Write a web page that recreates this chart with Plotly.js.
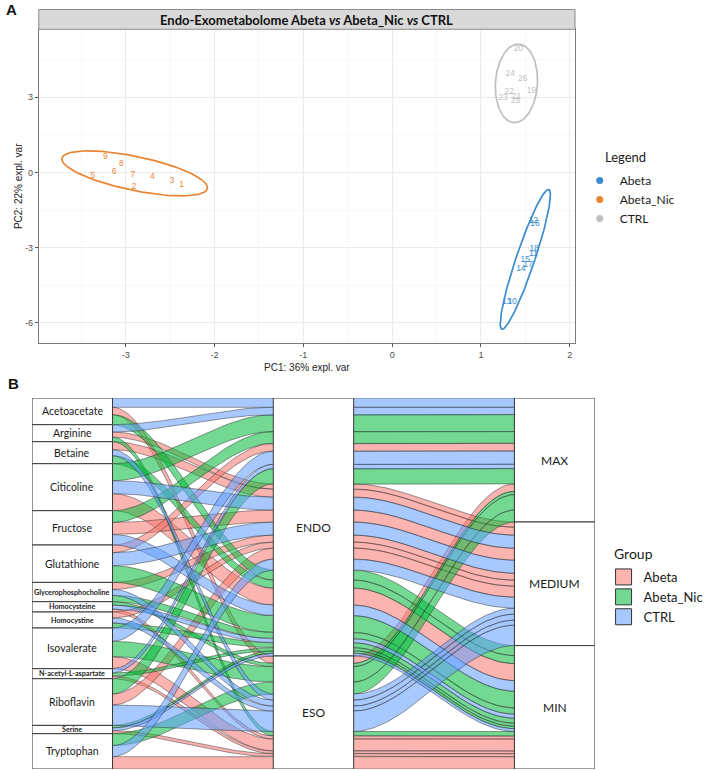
<!DOCTYPE html>
<html>
<head>
<meta charset="utf-8">
<script src="https://cdn.plot.ly/plotly-3.0.1.min.js"></script>
<style>
  html, body { margin: 0; padding: 0; background: #ffffff; }
  #chart { width: 709px; height: 771px; }
</style>
</head>
<body>
<div id="chart"></div>
<script>
// ---------------- Panel A: PCA scores (PC1 / PC2) ----------------
const pcaGroups = ['Abeta', 'Abeta_Nic', 'CTRL'];

const abetaIds = ['10', '11', '12', '13', '14', '15', '16', '17', '18'];
const abetaPC1 = [1.35, 1.59, 1.59, 1.29, 1.45, 1.50, 1.61, 1.53, 1.60];
const abetaPC2 = [-5.16, -3.25, -1.93, -5.16, -3.86, -3.47, -2.06, -3.69, -3.03];

const nicIds = ['1', '2', '3', '4', '5', '6', '7', '8', '9'];
const nicPC1 = [-2.37, -2.91, -2.48, -2.70, -3.37, -3.13, -2.92, -3.05, -3.23];
const nicPC2 = [-0.48, -0.57, -0.35, -0.17, -0.15, 0.01, -0.08, 0.32, 0.60];

const ctrlIds = ['19', '20', '21', '22', '23', '24', '25', '26'];
const ctrlPC1 = [1.57, 1.42, 1.40, 1.32, 1.25, 1.33, 1.39, 1.47];
const ctrlPC2 = [3.25, 4.91, 3.01, 3.20, 2.97, 3.94, 2.84, 3.71];

// group ellipses: centre and two conjugate semi-diameters (PC1, PC2)
const ellipseCentre = [[1.50, -3.465], [-2.90, -0.04], [1.40, 3.545]];
const ellipseU = [[0.11, 0.0], [0.82, -0.57], [0.237, 0.0]];
const ellipseV = [[0.26, 2.785], [0.0, 0.69], [0.02, 1.565]];

const xTicks = [-3, -2, -1, 0, 1, 2];
const yTicks = [-6, -3, 0, 3];

// ---------------- Panel B: alluvial plot ----------------
const metabolites = ['Acetoacetate', 'Arginine', 'Betaine', 'Citicoline', 'Fructose', 'Glutathione',
  'Glycerophosphocholine', 'Homocysteine', 'Homocystine', 'Isovalerate', 'N-acetyl-L-aspartate',
  'Riboflavin', 'Serine', 'Tryptophan'];
const groupNames = ['Abeta', 'Abeta_Nic', 'CTRL'];
const compartments = ['ENDO', 'ESO'];
const levels = ['MAX', 'MEDIUM', 'MIN'];

const abetaCompartment = ['ESO', 'ENDO', 'ENDO', 'ENDO', 'ENDO', 'ENDO', 'ENDO', 'ESO', 'ENDO', 'ESO', 'ESO', 'ENDO', 'ESO', 'ESO'];
const abetaLevel = ['MAX', 'MEDIUM', 'MEDIUM', 'MIN', 'MEDIUM', 'MAX', 'MEDIUM', 'MIN', 'MEDIUM', 'MIN', 'MIN', 'MEDIUM', 'MIN', 'MIN'];
const abetaValue = [7.4, 5.2, 8, 17, 12, 7.7, 7, 3, 6, 12, 2.7, 11, 3, 12.3];

const nicCompartment = ['ENDO', 'ESO', 'ENDO', 'ENDO', 'ENDO', 'ENDO', 'ENDO', 'ESO', 'ENDO', 'ESO', 'ENDO', 'ENDO', 'ENDO', 'ESO'];
const nicLevel = ['MIN', 'MIN', 'MIN', 'MAX', 'MAX', 'MIN', 'MIN', 'MAX', 'MIN', 'MAX', 'MIN', 'MAX', 'MIN', 'MAX'];
const nicValue = [10, 4.5, 8, 17, 11.7, 16.7, 6.3, 3.3, 5, 15.4, 3, 15.3, 2.5, 12];

const ctrlCompartment = ['ENDO', 'ENDO', 'ESO', 'ENDO', 'ENDO', 'ENDO', 'ESO', 'ENDO', 'ESO', 'ENDO', 'ENDO', 'ESO', 'ENDO', 'ENDO'];
const ctrlLevel = ['MAX', 'MAX', 'MEDIUM', 'MEDIUM', 'MIN', 'MEDIUM', 'MEDIUM', 'MIN', 'MEDIUM', 'MAX', 'MAX', 'MEDIUM', 'MIN', 'MEDIUM'];
const ctrlValue = [9.3, 7.3, 6, 13, 10.6, 13, 6, 4, 5, 13.3, 4.3, 20.4, 2.8, 11];

// ---------------- styling ----------------
const pcaColors = ['#3A8BD0', '#EA8431', '#BFBFBF'];
const flowRGB = [[248, 118, 109], [0, 186, 56], [97, 156, 255]];
const flowAlpha = 0.55;
const rgba = (c, a) => `rgba(${c[0]},${c[1]},${c[2]},${a})`;
const labelFamily = 'Lato, Carlito, sans-serif';

const traces = [];

// ----- Panel A traces -----
const pcaSets = [
  { ids: abetaIds, x: abetaPC1, y: abetaPC2 },
  { ids: nicIds, x: nicPC1, y: nicPC2 },
  { ids: ctrlIds, x: ctrlPC1, y: ctrlPC2 }
];

pcaSets.forEach((s, gi) => {
  // ellipse outline
  const ex = [], ey = [];
  const [cx, cy] = ellipseCentre[gi];
  for (let k = 0; k <= 120; k++) {
    const t = 2 * Math.PI * k / 120;
    ex.push(cx + ellipseU[gi][0] * Math.cos(t) + ellipseV[gi][0] * Math.sin(t));
    ey.push(cy + ellipseU[gi][1] * Math.cos(t) + ellipseV[gi][1] * Math.sin(t));
  }
  traces.push({
    type: 'scatter', mode: 'lines', x: ex, y: ey, xaxis: 'x', yaxis: 'y',
    line: { color: pcaColors[gi], width: 1.7 }, showlegend: false, hoverinfo: 'skip'
  });
  // sample labels
  traces.push({
    type: 'scatter', mode: 'text', x: s.x, y: s.y, text: s.ids, xaxis: 'x', yaxis: 'y',
    textposition: 'middle center',
    textfont: { family: 'Liberation Sans, Arial, sans-serif', size: 8.5, color: pcaColors[gi] },
    showlegend: false, hoverinfo: 'x+y+text'
  });
});
// legend keys for panel A
pcaGroups.forEach((g, gi) => {
  traces.push({
    type: 'scatter', mode: 'markers', x: [null], y: [null], xaxis: 'x', yaxis: 'y',
    name: g, legend: 'legend', marker: { color: pcaColors[gi], size: 7 }, showlegend: true
  });
});

// ----- Panel B: build alluvia -----
const groupCompartment = [abetaCompartment, nicCompartment, ctrlCompartment];
const groupLevel = [abetaLevel, nicLevel, ctrlLevel];
const groupValue = [abetaValue, nicValue, ctrlValue];

const alluvia = [];
groupNames.forEach((g, gi) => {
  metabolites.forEach((m, mi) => {
    alluvia.push({
      gi: gi, mi: mi,
      ci: compartments.indexOf(groupCompartment[gi][mi]),
      li: levels.indexOf(groupLevel[gi][mi]),
      v: groupValue[gi][mi]
    });
  });
});

// stack the lodes at one axis following a sort key
function stackAt(keyFn) {
  const idx = alluvia.map((_, i) => i).sort((a, b) => {
    const ka = keyFn(alluvia[a]), kb = keyFn(alluvia[b]);
    for (let k = 0; k < ka.length; k++) if (ka[k] !== kb[k]) return ka[k] - kb[k];
    return 0;
  });
  const top = new Array(alluvia.length);
  let acc = 0;
  idx.forEach(i => { top[i] = acc; acc += alluvia[i].v; });
  return top;
}
const top1 = stackAt(a => [a.mi, a.li, a.ci, a.gi]);
const top2 = stackAt(a => [a.ci, a.li, a.mi, a.gi]);
const top3 = stackAt(a => [a.li, a.ci, a.mi, a.gi]);

// stratum extents from the summed values
function strataExtents(names, field) {
  const sizes = names.map((_, k) => alluvia.filter(a => a[field] === k).reduce((s, a) => s + a.v, 0));
  const tops = [];
  let acc = 0;
  sizes.forEach(s => { tops.push(acc); acc += s; });
  return { sizes, tops };
}
const axis1 = strataExtents(metabolites, 'mi');
const axis2 = strataExtents(compartments, 'ci');
const axis3 = strataExtents(levels, 'li');
const total = alluvia.reduce((s, a) => s + a.v, 0);

const W = 1 / 3;               // stratum width in axis units
const ease = t => t * t * (3 - 2 * t);
const N = 40;

alluvia.forEach((a, i) => {
  const seg = (x0, yA, yB) => {
    const px = [], py = [];
    for (let k = 0; k <= N; k++) {
      const t = k / N;
      px.push(x0 + (1 - W) * t);
      py.push(yA + (yB - yA) * ease(t));
    }
    return [px, py];
  };
  const [ax1, ay1] = seg(1 + W / 2, top1[i], top2[i]);
  const [ax2, ay2] = seg(2 + W / 2, top2[i], top3[i]);
  const [bx1, by1] = seg(1 + W / 2, top1[i] + a.v, top2[i] + a.v);
  const [bx2, by2] = seg(2 + W / 2, top2[i] + a.v, top3[i] + a.v);
  const xs = [...ax1, ...ax2, ...bx2.slice().reverse(), ...bx1.slice().reverse(), ax1[0]];
  const ys = [...ay1, ...ay2, ...by2.slice().reverse(), ...by1.slice().reverse(), ay1[0]];
  traces.push({
    type: 'scatter', mode: 'lines', x: xs, y: ys, xaxis: 'x2', yaxis: 'y2',
    fill: 'toself', fillcolor: rgba(flowRGB[a.gi], flowAlpha),
    line: { color: 'rgba(45,45,45,0.8)', width: 0.6 },
    showlegend: false, hoverinfo: 'skip'
  });
});
// legend keys for panel B
groupNames.forEach((g, gi) => {
  traces.push({
    type: 'scatter', mode: 'markers', x: [null], y: [null], xaxis: 'x2', yaxis: 'y2',
    name: g, legend: 'legend2',
    marker: { symbol: 'square', size: 16, color: rgba(flowRGB[gi], flowAlpha), line: { color: '#333333', width: 1 } },
    showlegend: true
  });
});

// strata boxes and labels
const shapes = [];
const annotations = [];
const boxLine = { color: '#3a3a3a', width: 1 };

function addAxis(names, ext, xc, labelStyle) {
  names.forEach((n, k) => {
    shapes.push({
      type: 'rect', xref: 'x2', yref: 'y2', layer: 'above',
      x0: xc - W / 2, x1: xc + W / 2, y0: ext.tops[k], y1: ext.tops[k] + ext.sizes[k],
      fillcolor: '#ffffff', line: boxLine
    });
    const st = labelStyle(n, ext.sizes[k]);
    annotations.push({
      xref: 'x2', yref: 'y2', x: xc, y: ext.tops[k] + ext.sizes[k] / 2,
      text: st.bold ? '<b>' + n + '</b>' : n, showarrow: false,
      font: { family: labelFamily, size: st.size, color: '#1a1a1a' },
      xanchor: 'center', yanchor: 'middle'
    });
  });
}
addAxis(metabolites, axis1, 1, (n, h) => (h >= 17 && n.length <= 12) ? { size: 10.5, bold: false } : { size: 7.2, bold: true });
addAxis(compartments, axis2, 2, () => ({ size: 12, bold: false }));
addAxis(levels, axis3, 3, () => ({ size: 12, bold: false }));

// ----- page decorations -----
const W_PX = 709, H_PX = 771;
const pA = { l: 39, r: 578.3, t: 29.3, b: 343.3 };
const pB = { l: 32.3, r: 598.2, t: 398, b: 769 };

// facet strip
shapes.push({
  type: 'rect', xref: 'paper', yref: 'paper', layer: 'above',
  x0: pA.l / W_PX, x1: pA.r / W_PX, y0: 1 - pA.t / H_PX, y1: 1 - 9.5 / H_PX,
  fillcolor: '#D9D9D9', line: { color: '#8c8c8c', width: 1 }
});
annotations.push({
  xref: 'paper', yref: 'paper', x: (pA.l + pA.r) / 2 / W_PX, y: 1 - 19.5 / H_PX,
  text: '<b>Endo-Exometabolome Abeta <i>vs</i> Abeta_Nic <i>vs</i> CTRL</b>',
  showarrow: false, xanchor: 'center', yanchor: 'middle',
  font: { family: labelFamily, size: 13, color: '#111111' }
});
// legend headings
annotations.push({
  xref: 'paper', yref: 'paper', x: 606 / W_PX, y: 1 - 157 / H_PX,
  text: 'Legend', showarrow: false, xanchor: 'left', yanchor: 'middle',
  font: { family: labelFamily, size: 13, color: '#1a1a1a' }
});
annotations.push({
  xref: 'paper', yref: 'paper', x: 615 / W_PX, y: 1 - 553 / H_PX,
  text: 'Group', showarrow: false, xanchor: 'left', yanchor: 'middle',
  font: { family: labelFamily, size: 14, color: '#1a1a1a' }
});
// panel letters
annotations.push({
  xref: 'paper', yref: 'paper', x: 4 / W_PX, y: 1 - 10 / H_PX, text: '<b>A</b>',
  showarrow: false, xanchor: 'left', yanchor: 'middle',
  font: { family: 'Liberation Sans, Arial, sans-serif', size: 15, color: '#111111' }
});
annotations.push({
  xref: 'paper', yref: 'paper', x: 6 / W_PX, y: 1 - 383 / H_PX, text: '<b>B</b>',
  showarrow: false, xanchor: 'left', yanchor: 'middle',
  font: { family: 'Liberation Sans, Arial, sans-serif', size: 15, color: '#111111' }
});

const tickFont = { family: 'Liberation Sans, Arial, sans-serif', size: 9, color: '#4D4D4D' };
const titleFont = { family: 'Liberation Sans, Arial, sans-serif', size: 10, color: '#222222' };

const layout = {
  width: W_PX, height: H_PX,
  margin: { l: 0, r: 0, t: 0, b: 0 },
  paper_bgcolor: '#ffffff', plot_bgcolor: '#ffffff',
  showlegend: true,
  xaxis: {
    domain: [pA.l / W_PX, pA.r / W_PX], range: [-3.98, 2.06], anchor: 'y',
    tickvals: xTicks, ticktext: xTicks.map(String), tickfont: tickFont,
    ticks: 'outside', ticklen: 3, tickcolor: '#555555',
    showgrid: true, gridcolor: '#EBEBEB', gridwidth: 1,
    minor: { tickvals: [-3.5, -2.5, -1.5, -0.5, 0.5, 1.5], showgrid: true, gridcolor: '#F3F3F3', gridwidth: 0.7 },
    zeroline: false, showline: true, linecolor: '#7a7a7a', linewidth: 1, mirror: true,
    title: { text: 'PC1: 36% expl. var', font: titleFont, standoff: 4 }, automargin: false
  },
  yaxis: {
    domain: [1 - pA.b / H_PX, 1 - pA.t / H_PX], range: [-6.81, 5.70], anchor: 'x',
    tickvals: yTicks, ticktext: yTicks.map(String), tickfont: tickFont,
    ticks: 'outside', ticklen: 3, tickcolor: '#555555',
    showgrid: true, gridcolor: '#EBEBEB', gridwidth: 1,
    minor: { tickvals: [-4.5, -1.5, 1.5, 4.5], showgrid: true, gridcolor: '#F3F3F3', gridwidth: 0.7 },
    zeroline: false, showline: true, linecolor: '#7a7a7a', linewidth: 1, mirror: true,
    title: { text: 'PC2: 22% expl. var', font: titleFont, standoff: 0 }, automargin: false
  },
  xaxis2: {
    domain: [pB.l / W_PX, pB.r / W_PX], range: [1 - W / 2, 3 + W / 2], anchor: 'y2',
    visible: false, fixedrange: true
  },
  yaxis2: {
    domain: [1 - pB.b / H_PX, 1 - pB.t / H_PX], range: [total, 0], anchor: 'x2',
    visible: false, fixedrange: true
  },
  legend: {
    x: 583 / W_PX, y: 1 - 166 / H_PX, xanchor: 'left', yanchor: 'top',
    bgcolor: 'rgba(0,0,0,0)', borderwidth: 0, tracegroupgap: 0,
    font: { family: labelFamily, size: 12, color: '#1a1a1a' }
  },
  legend2: {
    x: 607 / W_PX, y: 1 - 562 / H_PX, xanchor: 'left', yanchor: 'top',
    bgcolor: 'rgba(0,0,0,0)', borderwidth: 0, tracegroupgap: 0,
    font: { family: labelFamily, size: 13, color: '#1a1a1a' }
  },
  shapes: shapes,
  annotations: annotations
};

Plotly.newPlot('chart', traces, layout, { displayModeBar: false, staticPlot: true });
</script>
</body>
</html>
